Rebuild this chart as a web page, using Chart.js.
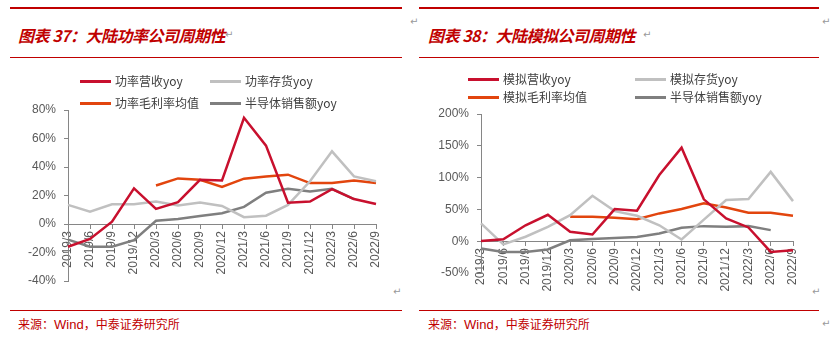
<!DOCTYPE html>
<html>
<head>
<meta charset="utf-8">
<script src="https://cdn.jsdelivr.net/npm/chart.js@4.4.0/dist/chart.umd.min.js"></script>
<style>
body{margin:0;width:830px;height:344px;background:#fff;position:relative;overflow:hidden;font-family:"Liberation Sans",Arial,sans-serif;}
.linha{position:absolute;background:#c00000;}
.titulo{position:absolute;top:23px;font:italic bold 16px "Noto Sans CJK SC",sans-serif;color:#c00000;white-space:nowrap;letter-spacing:-0.5px;}
.fonte{position:absolute;top:315px;font:12px "Noto Sans CJK SC",sans-serif;color:#c00000;white-space:nowrap;}
.fonte span{font-family:"Liberation Sans",Arial,sans-serif;font-size:13px;}
.marca{position:absolute;font:10px "DejaVu Sans",sans-serif;color:#999;}
.leg{position:absolute;font:12px "Noto Sans CJK SC",sans-serif;color:#404040;white-space:nowrap;line-height:14px;}
.leg i{display:inline-block;width:31px;height:3px;vertical-align:middle;margin-right:4px;position:relative;top:-1px;}
canvas{position:absolute;top:0;}
</style>
</head>
<body>
<div class="linha" style="left:10px;top:7px;width:392px;height:2px"></div>
<div class="linha" style="left:10px;top:57px;width:392px;height:1px"></div>
<div class="linha" style="left:10px;top:310px;width:392px;height:1px"></div>
<div class="linha" style="left:419px;top:7px;width:400px;height:2px"></div>
<div class="linha" style="left:419px;top:57px;width:400px;height:1px"></div>
<div class="linha" style="left:419px;top:310px;width:400px;height:1px"></div>

<div class="titulo" style="left:18px">图表 37：大陆功率公司周期性</div>
<div class="titulo" style="left:428px">图表 38：大陆模拟公司周期性</div>
<div class="fonte" style="left:18px">来源：<span>Wind</span>，中泰证券研究所</div>
<div class="fonte" style="left:428px">来源：<span>Wind</span>，中泰证券研究所</div>

<div class="marca" style="left:225px;top:29px">↵</div>
<div class="marca" style="left:410px;top:16px">↵</div>
<div class="marca" style="left:643px;top:29px">↵</div>
<div class="marca" style="left:822px;top:16px">↵</div>
<div class="marca" style="left:393px;top:286px">↵</div>
<div class="marca" style="left:812px;top:286px">↵</div>
<div class="marca" style="left:822px;top:318px">↵</div>

<canvas id="grafico-power" width="410" height="344" style="left:0"></canvas>
<canvas id="grafico-analog" width="420" height="344" style="left:410px"></canvas>

<script>
const categorias = ['2019/3', '2019/6', '2019/9', '2019/12', '2020/3', '2020/6', '2020/9', '2020/12',
'2021/3', '2021/6', '2021/9', '2021/12', '2022/3', '2022/6', '2022/9'];

// 图表37 功率
const powerNomes = ['功率营收yoy', '功率存货yoy', '功率毛利率均值', '半导体销售额yoy'];
const powerReceita = [-16, -10.5, 1.6, 25, 10.6, 15.3, 31, 30.5, 74.5, 55, 15, 15.8, 24.5, 17.5, 14];
const powerEstoque = [13.4, 8.7, 13.9, 13.9, 15.8, 13, 15, 12.7, 4.8, 5.8, 13.4, 30, 51, 33.4, 30];
const powerMargem = [null, null, null, null, 27, 32, 31, 26, 31.8, 33.4, 34.6, 28.7, 28.7, 30.6, 28.7];
const powerSemi = [-11, -16, -16, -11.3, 2.3, 3.5, 5.6, 7.5, 12, 22, 24.7, 22.8, 24.7, 17.5, null];

// 图表38 模拟
const analogNomes = ['模拟营收yoy', '模拟存货yoy', '模拟毛利率均值', '半导体销售额yoy'];
const analogReceita = [0.5, 3, 25, 41.5, 14.7, 10.5, 50.5, 48, 104, 147, 65.8, 35.8, 21.6, -16.9, -14.2];
const analogEstoque = [28, -5, 7, 22.6, 41, 71.5, 47.3, 40, 25, 2.7, 34, 64.7, 66.2, 109, 63];
const analogMargem = [null, null, null, null, 38.4, 38.4, 36.8, 34.7, 43.7, 50.5, 59.5, 53, 44.6, 44.6, 40];
const analogSemi = [-11.5, -16.8, -16.8, -13, 1.5, 3.5, 5, 6.5, 12, 21, 23.7, 22.6, 23.7, 17.4, null];

const cores = ['#c8102e', '#c0c0c0', '#e2450e', '#7f7f7f'];
const corEixo = '#868686';
const corTexto = '#595959';

function constroiDatasets(nomes, series){
	let temp = [];
	series.map((s, i) => {
		temp.push({
			label: nomes[i],
			data: s,
			borderColor: cores[i],
			backgroundColor: cores[i],
			borderWidth: 2.5,
			pointRadius: 0,
			fill: false,
			tension: 0,
			order: i == 0 ? 0 : i + 1
		});
	})
	return temp;
}

function montaLegenda(nomes, x1, x2, y1, y2){
	let pos = [[x1, y1], [x2, y1], [x1, y2], [x2, y2]];
	nomes.map((n, i) => {
		let d = document.createElement('div');
		d.className = 'leg';
		d.style.left = pos[i][0] + 'px';
		d.style.top = (pos[i][1] - 7) + 'px';
		d.innerHTML = '<i style="background:' + cores[i] + '"></i>' + n;
		document.body.appendChild(d);
	})
}

function montaGrafico(id, nomes, series, yMin, yMax, passo, larguraEixo, padding){
	let ctx = document.getElementById(id);
	return new Chart(ctx, {
		type: 'line',
		data: {
			labels: categorias,
			datasets: constroiDatasets(nomes, series)
		},
		options: {
			responsive: false,
			animation: false,
			devicePixelRatio: 1,
			layout: { padding: padding },
			plugins: {
				legend: { display: false },
				tooltip: { enabled: false }
			},
			scales: {
				x: {
					type: 'category',
					position: { y: 0 },
					offset: false,
					grid: { drawOnChartArea: false, drawTicks: true, tickLength: 4, color: corEixo },
					border: { color: corEixo, width: 1 },
					ticks: {
						autoSkip: false,
						minRotation: 90,
						maxRotation: 90,
						padding: 3,
						color: corTexto,
						font: { family: 'Liberation Sans', size: 12 }
					}
				},
				y: {
					min: yMin,
					max: yMax,
					afterFit: (scale) => { scale.width = larguraEixo; },
					grid: { drawOnChartArea: false, drawTicks: true, tickLength: 4, color: corEixo },
					border: { color: corEixo, width: 1 },
					ticks: {
						stepSize: passo,
						padding: 8,
						color: corTexto,
						font: { family: 'Liberation Sans', size: 12 },
						callback: (v) => v + '%'
					}
				}
			}
		}
	});
}

montaLegenda(powerNomes, 80, 210, 81, 103);
montaLegenda(analogNomes, 468, 635, 79, 97);

montaGrafico('grafico-power', powerNomes, [powerReceita, powerEstoque, powerMargem, powerSemi],
	-40, 80, 20, 68, { left: 0, top: 110, right: 34, bottom: 63 });
montaGrafico('grafico-analog', analogNomes, [analogReceita, analogEstoque, analogMargem, analogSemi],
	-50, 200, 50, 71, { left: 0, top: 114, right: 37, bottom: 71 });
</script>
</body>
</html>
